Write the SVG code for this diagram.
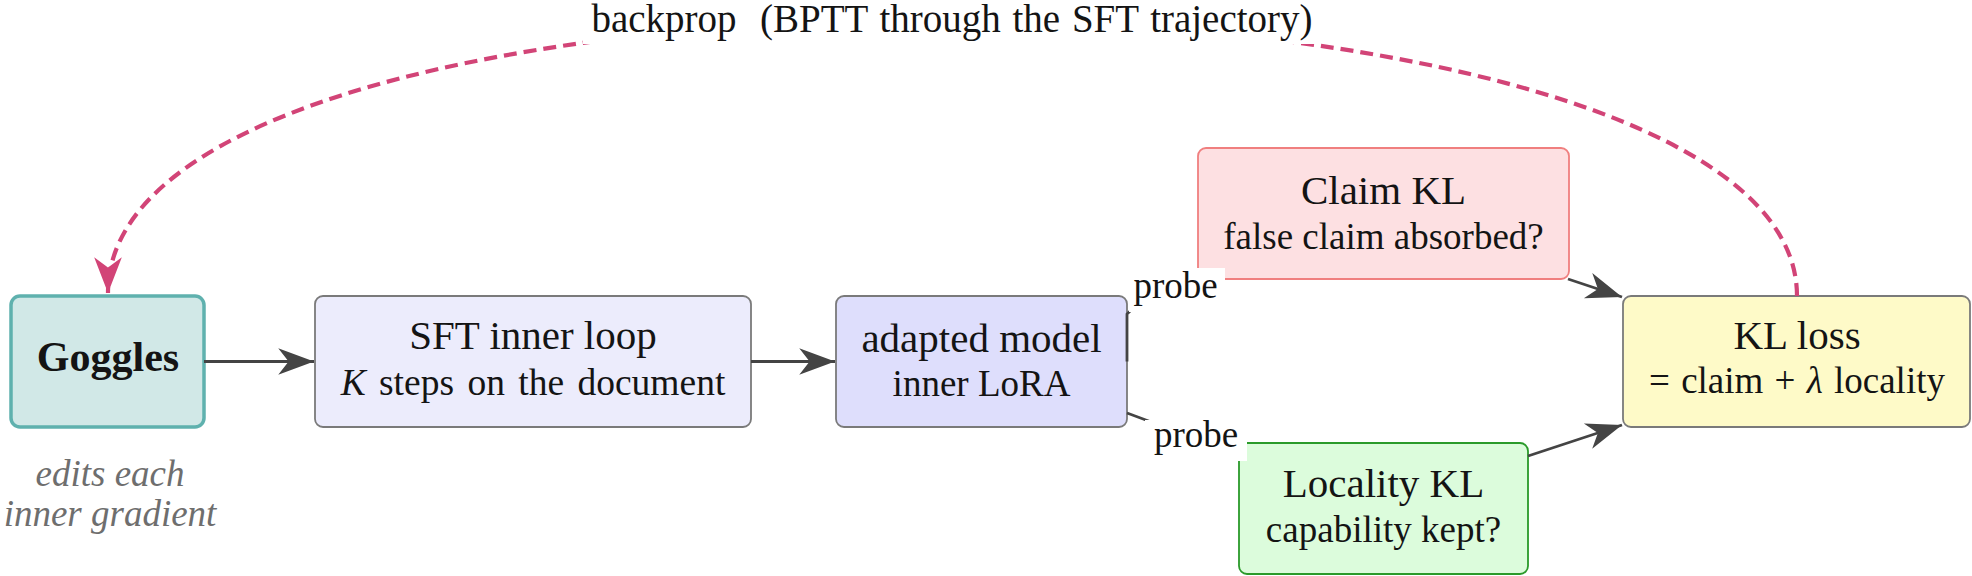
<svg xmlns="http://www.w3.org/2000/svg" width="1972" height="576" viewBox="0 0 1972 576">
<style>
  .t { fill: #141414; text-anchor: middle; }
  .box { stroke-width: 1.8; }
  .conn { stroke: #444444; stroke-width: 2.8; fill: none; }
  .back { stroke: #d24477; stroke-width: 4.2; fill: none; stroke-dasharray: 13 7; }
  .lbl { fill: #ffffff; stroke: none; }
</style>
<defs>
  <marker id="ah" markerUnits="userSpaceOnUse" markerWidth="40" markerHeight="30" viewBox="-32 -13 34 26" refX="0" refY="0" orient="auto">
    <path d="M0,0 L-31,-11.5 L-22,0 L-31,11.5 Z" fill="#444444"/>
  </marker>
  <marker id="ahp" markerUnits="userSpaceOnUse" markerWidth="40" markerHeight="30" viewBox="-32 -13 34 26" refX="0" refY="0" orient="auto">
    <path d="M0,0 L-31,-12 L-22,0 L-31,12 Z" fill="#d24477"/>
  </marker>
</defs>

<g id="goggles">
  <rect x="11" y="296" width="193" height="131" rx="9" fill="#d1e8e7" stroke="#5fb1ae" stroke-width="3.5"/>
  <text class="t" x="108" y="371" style="font-family:'Liberation Serif',serif;font-size:42px;font-weight:bold">Goggles</text>
</g>
<g id="goggles-note">
  <text x="110" y="486" style="font-family:'Liberation Serif',serif;font-size:37px;font-style:italic;fill:#6e6e6e;text-anchor:middle">edits each</text>
  <text x="110" y="526" style="font-family:'Liberation Serif',serif;font-size:37px;font-style:italic;fill:#6e6e6e;text-anchor:middle">inner gradient</text>
</g>

<g id="sft">
  <rect class="box" x="315" y="296" width="436" height="131" rx="8" fill="#ececfc" stroke="#7a7a7a"/>
  <text class="t" x="533" y="349" style="font-family:'Liberation Serif',serif;font-size:41px">SFT inner loop</text>
  <text class="t" x="533" y="395" style="font-family:'Liberation Serif',serif;font-size:37.5px;word-spacing:4px"><tspan style="font-style:italic">K</tspan> steps on the document</text>
</g>

<g id="adapted">
  <rect class="box" x="836" y="296" width="291" height="131" rx="8" fill="#dedefc" stroke="#7a7a7a"/>
  <text class="t" x="981.5" y="352" style="font-family:'Liberation Serif',serif;font-size:41px">adapted model</text>
  <text class="t" x="981.5" y="396" style="font-family:'Liberation Serif',serif;font-size:37px">inner LoRA</text>
</g>

<g id="claim">
  <rect class="box" x="1198" y="148" width="371" height="131" rx="8" fill="#fde0e2" stroke="#f07f7f"/>
  <text class="t" x="1383.5" y="204" style="font-family:'Liberation Serif',serif;font-size:41px">Claim KL</text>
  <text class="t" x="1383.5" y="249" style="font-family:'Liberation Serif',serif;font-size:37px">false claim absorbed?</text>
</g>

<g id="locality">
  <rect class="box" x="1239" y="443" width="289" height="131" rx="8" fill="#dcfcdc" stroke="#2a9a2a"/>
  <text class="t" x="1383.5" y="497" style="font-family:'Liberation Serif',serif;font-size:41px">Locality KL</text>
  <text class="t" x="1383.5" y="542" style="font-family:'Liberation Serif',serif;font-size:37px">capability kept?</text>
</g>

<g id="klloss">
  <rect class="box" x="1623" y="296" width="347" height="131" rx="8" fill="#fefac8" stroke="#7a7a7a"/>
  <text class="t" x="1797" y="349" style="font-family:'Liberation Serif',serif;font-size:41px">KL loss</text>
  <text class="t" x="1797" y="393" style="font-family:'Liberation Serif',serif;font-size:37px;word-spacing:2px">= claim + <tspan style="font-style:italic">λ</tspan> locality</text>
</g>

<g id="connectors">
  <line class="conn" x1="204" y1="361.5" x2="314" y2="361.5" marker-end="url(#ah)"/>
  <line class="conn" x1="751" y1="361.5" x2="835" y2="361.5" marker-end="url(#ah)"/>
  <path class="conn" d="M1127,361.5 L1127,314 L1150,292 L1200,279"/>
  <line class="conn" x1="1127" y1="413" x2="1240" y2="455"/>
  <line class="conn" x1="1568" y1="279" x2="1622" y2="297" marker-end="url(#ah)"/>
  <line class="conn" x1="1528" y1="456" x2="1622" y2="425" marker-end="url(#ah)"/>
  <path class="back" d="M1797,296 C1797,-66 108,-78 108,293" marker-end="url(#ahp)"/>
</g>

<g id="labels">
  <rect class="lbl" x="1129" y="268" width="96" height="44"/>
  <text class="t" x="1175.5" y="298" style="font-family:'Liberation Serif',serif;font-size:37px">probe</text>
  <rect class="lbl" x="1145" y="420" width="102" height="41"/>
  <text class="t" x="1196" y="447" style="font-family:'Liberation Serif',serif;font-size:37px">probe</text>
  <rect class="lbl" x="583" y="-2" width="738" height="46"/>
  <text class="t" x="952" y="32" style="font-family:'Liberation Serif',serif;font-size:39px;word-spacing:2px;white-space:pre" xml:space="preserve">backprop  (BPTT through the SFT trajectory)</text>
</g>
</svg>
